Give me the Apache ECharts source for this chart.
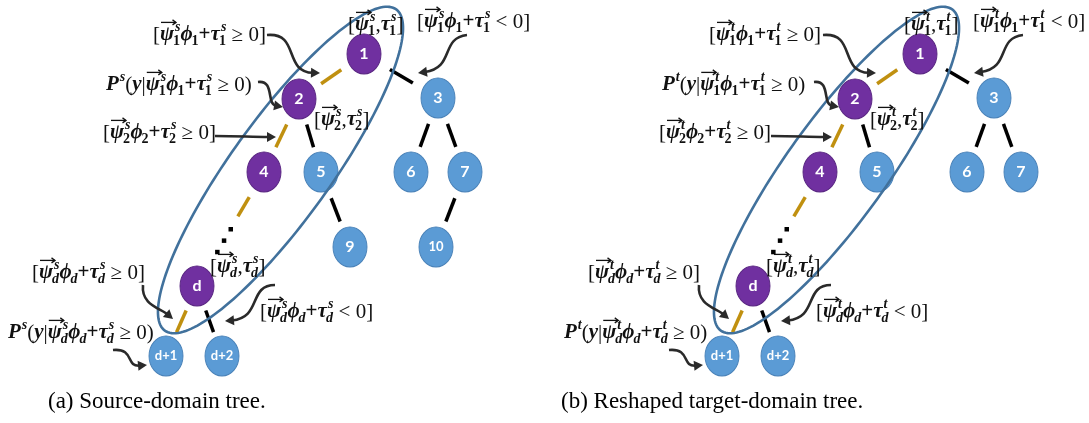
<!DOCTYPE html>
<html><head><meta charset="utf-8">
<script src="https://cdn.jsdelivr.net/npm/echarts@6/dist/echarts.min.js"></script>
<style>html,body{margin:0;padding:0;background:#fff}#c{width:1089px;height:423px}</style>
</head><body><div id="c"></div>
<script>
// ---------------- data ----------------
const nodeNames = ['1','2','3','4','5','6','7','9','10','d','d+1','d+2'];
const nodeX = [364,299,438,264,321,411,465,350,436,197,166,222];
const nodeY = [54,99,98,172,172,172,172,247,247,286,356,356];
const pathNodes = ['1','2','4','d'];
const sourceNodes = nodeNames;
const targetNodes = ['1','2','3','4','5','6','7','d','d+1','d+2'];
const sourceEdges = [['1','2'],['1','3'],['2','4'],['2','5'],['3','6'],['3','7'],['5','9'],['7','10'],['d','d+1'],['d','d+2']];
const targetEdges = [['1','2'],['1','3'],['2','4'],['2','5'],['3','6'],['3','7'],['d','d+1'],['d','d+2']];
const pathEdges = [['1','2'],['2','4'],['d','d+1']];
const elidedEdge = ['4','d'];
const domains = ['s','t'];
const captions = ['(a) Source-domain tree.', '(b) Reshaped target-domain tree.'];
// math labels: \v = vector arrow, ^ = superscript, _ = subscript, D = domain letter
const labelTexts = [
  '[\\vψ^D_1ϕ_1+τ^D_1 ≥ 0]',
  '[\\vψ^D_1,τ^D_1]',
  '[\\vψ^D_1ϕ_1+τ^D_1 < 0]',
  'P^D(y|\\vψ^D_1ϕ_1+τ^D_1 ≥ 0)',
  '[\\vψ^D_2,τ^D_2]',
  '[\\vψ^D_2ϕ_2+τ^D_2 ≥ 0]',
  '[\\vψ^D_d,τ^D_d]',
  '[\\vψ^D_dϕ_d+τ^D_d ≥ 0]',
  '[\\vψ^D_dϕ_d+τ^D_d < 0]',
  'P^D(y|\\vψ^D_dϕ_d+τ^D_d ≥ 0)'
];
// ---------------- layout (annotation placement) ----------------
const labelAnchorX = [153,348,417,106,314,103,210,32,260,8];
const labelAnchorY = [35,25,22,85,120,133,267,273,312,333];
const arrowPaths = [
  [267,35, 300,32, 283,72, 320,73],
  [467,35, 440,38, 455,68, 418,73],
  [258,82, 275,80, 266,104, 283,107],
  [215,136, 240,136, 250,137, 276,137],
  [143,285, 141,305, 160,308, 173,319],
  [275,285, 248,285, 262,318, 225,321],
  [113,350, 135,348, 125,367, 147,365]
];
const PANEL_W = [556, 533];

const PURPLE = '#7030A0', BLUE = '#5B9BD5', GOLD = '#C09010', ELL = '#41719C', INK = '#111';
const FAM = '"Liberation Serif","DejaVu Serif",serif';
const MAIN = 21, SCRIPT = 14;
const mctx = document.createElement('canvas').getContext('2d');
function fontOf(ch, size, script){
  const letter = /[A-Za-z\u03b1-\u03c9\u03d5]/.test(ch);
  return {fontStyle: letter ? 'italic' : 'normal',
          fontWeight: (letter || ch === '+' || script) ? 'bold' : 'normal',
          fontSize: size, fontFamily: FAM};
}
function measure(t, f){ mctx.font = f.fontStyle + ' ' + f.fontWeight + ' ' + f.fontSize + 'px ' + f.fontFamily; return mctx.measureText(t).width; }
function textEl(t, x, y, f){
  return {type:'text', x:x, y:y, style:Object.assign({text:t, fill:INK, align:'left', verticalAlign:'middle'}, f)};
}
function parse(str, D){
  str = str.replace(/D/g, D);
  const toks = []; let vec = false;
  for (let i = 0; i < str.length; i++){
    const ch = str[i];
    if (ch === '\\' && str[i+1] === 'v'){ vec = true; i++; continue; }
    if (ch === '^'){ toks[toks.length-1].sup = str[++i]; continue; }
    if (ch === '_'){ toks[toks.length-1].sub = str[++i]; continue; }
    toks.push({b:ch, vec:vec, sup:'', sub:''}); vec = false;
  }
  return toks;
}
function mathGroup(toks, x, y){
  const ch = [];
  for (const t of toks){
    const f = fontOf(t.b, MAIN, false);
    const w = measure(t.b, f);
    ch.push(textEl(t.b, x, y, f));
    if (t.vec){
      const ay = y - 0.6*MAIN, x0 = x + 1, x1 = x + w + 2;
      ch.push({type:'polyline', shape:{points:[[x0,ay],[x1,ay]]}, style:{stroke:INK, lineWidth:1.3, fill:null}});
      ch.push({type:'polyline', shape:{points:[[x1-3.5,ay-2.5],[x1,ay],[x1-3.5,ay+2.5]]}, style:{stroke:INK, lineWidth:1.3, fill:null}});
    }
    let sw = 0;
    const italic = f.fontStyle === 'italic';
    if (t.sup){
      const sf = fontOf(t.sup, SCRIPT, true);
      ch.push(textEl(t.sup, x + w + (italic ? 1 : 0), y - 0.36*MAIN, sf));
      sw = Math.max(sw, measure(t.sup, sf) + (italic ? 1 : 0));
    }
    if (t.sub){
      const sf = fontOf(t.sub, SCRIPT, true);
      ch.push(textEl(t.sub, x + w - (italic ? 1 : 0), y + 0.3*MAIN, sf));
      sw = Math.max(sw, measure(t.sub, sf) - (italic ? 1 : 0));
    }
    x += w + sw;
  }
  return {type:'group', children:ch};
}

function panelSeries(k){
  const D = domains[k];
  const names = k === 0 ? sourceNodes : targetNodes;
  const edges = k === 0 ? sourceEdges : targetEdges;
  const pos = n => [nodeX[nodeNames.indexOf(n)], nodeY[nodeNames.indexOf(n)]];
  const isGold = (a,b) => pathEdges.some(e => e[0]===a && e[1]===b);
  const ax = {xAxisIndex:k, yAxisIndex:k};
  const out = [];
  // edges
  const edgeRows = edges.map(e => pos(e[0]).concat(pos(e[1]), [isGold(e[0],e[1]) ? 1 : 0]));
  edgeRows.push(pos(elidedEdge[0]).concat(pos(elidedEdge[1]), [2]));
  out.push(Object.assign({
    type:'custom', silent:true, z:2, data:edgeRows,
    renderItem:function(p, api){
      const a = api.coord([api.value(0), api.value(1)]), b = api.coord([api.value(2), api.value(3)]);
      const kind = api.value(4);
      const at = t => [a[0] + (b[0]-a[0])*t, a[1] + (b[1]-a[1])*t];
      if (kind === 2){
        const s0 = at(0.22), s1 = at(0.39);
        const ch = [{type:'line', shape:{x1:s0[0],y1:s0[1],x2:s1[0],y2:s1[1]}, style:{stroke:GOLD, lineWidth:3.5}}];
        [0.5,0.6,0.7].forEach(t => { const q = at(t); ch.push({type:'rect', shape:{x:q[0]-2, y:q[1]-2, width:4.5, height:4.5}, style:{fill:'#000'}}); });
        return {type:'group', children:ch};
      }
      const s0 = at(0.35), s1 = at(0.66);
      return {type:'line', shape:{x1:s0[0],y1:s0[1],x2:s1[0],y2:s1[1]}, style:{stroke: kind ? GOLD : '#000', lineWidth:3.5}};
    }
  }, ax));
  // nodes
  out.push(Object.assign({
    type:'scatter', silent:true, z:3, symbol:'circle', symbolSize:[34,40],
    data: names.map(n => {
      const onPath = pathNodes.includes(n);
      return {name:n, value:pos(n),
        itemStyle:{color: onPath ? PURPLE : BLUE, borderColor: onPath ? '#5A2782' : '#4A82B8', borderWidth:1, opacity:1},
        label:{fontSize: n.length > 1 ? 13 : 16}};
    }),
    label:{show:true, position:'inside', formatter:'{b}', color:'#fff', fontWeight:'bold', fontFamily:'Lato, "Open Sans", sans-serif'}
  }, ax));
  // ellipse around the decision path
  const first = pos(pathNodes[0]), last = pos(pathNodes[pathNodes.length-1]);
  out.push(Object.assign({
    type:'custom', silent:true, z:4, data:[first.concat(last)],
    renderItem:function(p, api){
      const a = api.coord([api.value(0), api.value(1)]), b = api.coord([api.value(2), api.value(3)]);
      const cx = (a[0]+b[0])/2, cy = (a[1]+b[1])/2;
      const dx = a[0]-b[0], dy = a[1]-b[1], L = Math.hypot(dx,dy);
      const ux = dx/L, uy = dy/L, vx = -uy, vy = ux;
      const ra = L/2 + 55, rb = 50;
      const pts = [];
      for (let i = 0; i < 180; i++){
        const th = i/180*Math.PI*2, c = Math.cos(th)*ra, s = Math.sin(th)*rb;
        pts.push([cx + ux*c + vx*s, cy + uy*c + vy*s]);
      }
      return {type:'polygon', shape:{points:pts}, style:{fill:'none', stroke:ELL, lineWidth:2.6}};
    }
  }, ax));
  // arrows
  out.push(Object.assign({
    type:'custom', silent:true, z:5, data:arrowPaths,
    renderItem:function(p, api){
      const P = [0,2,4,6].map(i => api.coord([api.value(i), api.value(i+1)]));
      const e = P[3], c = P[2];
      let dx = e[0]-c[0], dy = e[1]-c[1]; const L = Math.hypot(dx,dy); dx/=L; dy/=L;
      const hl = 9, hw = 5;
      const base = [e[0]-dx*hl, e[1]-dy*hl];
      return {type:'group', children:[
        {type:'bezierCurve', shape:{x1:P[0][0],y1:P[0][1],cpx1:P[1][0],cpy1:P[1][1],cpx2:P[2][0],cpy2:P[2][1],x2:base[0]+dx*2,y2:base[1]+dy*2}, style:{stroke:'#2a2a2a', lineWidth:2.6, fill:null}},
        {type:'polygon', shape:{points:[e,[base[0]-dy*hw, base[1]+dx*hw],[base[0]+dy*hw, base[1]-dx*hw]]}, style:{fill:'#2a2a2a'}}
      ]};
    }
  }, ax));
  // math labels
  const parsed = labelTexts.map(s => parse(s, D));
  out.push(Object.assign({
    type:'custom', silent:true, z:6,
    data: labelTexts.map((s,i) => [labelAnchorX[i], labelAnchorY[i], i]),
    renderItem:function(p, api){
      const q = api.coord([api.value(0), api.value(1)]);
      return mathGroup(parsed[api.value(2)], q[0], q[1]);
    }
  }, ax));
  return out;
}

const chart = echarts.init(document.getElementById('c'), null, {renderer:'canvas'});
chart.setOption({
  animation:false,
  backgroundColor:'#fff',
  title: captions.map((t,k) => ({text:t, left: k === 0 ? 48 : 561, top:390, padding:0,
    textStyle:{fontFamily:'"Liberation Serif", serif', fontSize:23, fontWeight:'normal', color:'#000'}})),
  grid:[{left:0, top:0, width:PANEL_W[0], height:423}, {left:PANEL_W[0], top:0, width:PANEL_W[1], height:423}],
  xAxis:[0,1].map(k => ({type:'value', gridIndex:k, min:0, max:PANEL_W[k], show:false})),
  yAxis:[0,1].map(k => ({type:'value', gridIndex:k, min:0, max:423, inverse:true, show:false})),
  series: panelSeries(0).concat(panelSeries(1))
});
</script></body></html>
